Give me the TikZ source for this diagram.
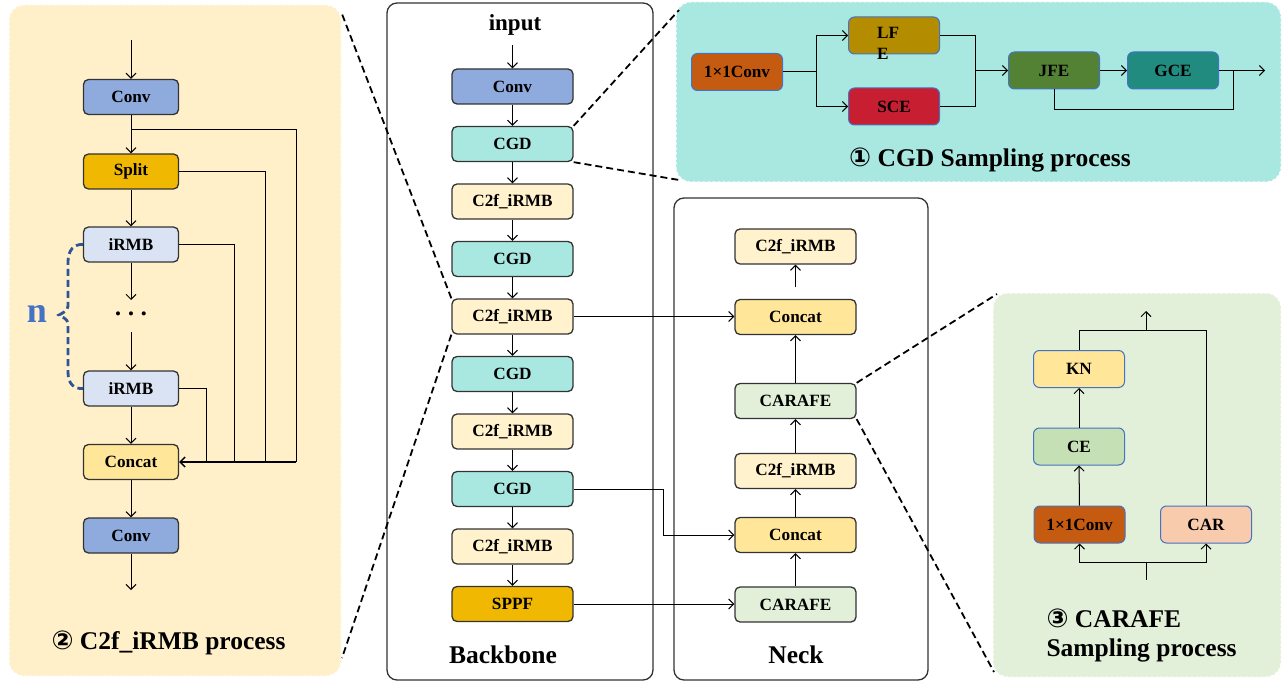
\documentclass[tikz,border=0pt]{standalone}
\usepackage{fontspec}
\setmainfont{Liberation Serif}
\newfontfamily\circfont{DejaVu Sans}
\usetikzlibrary{arrows.meta}
\definecolor{convc}{HTML}{8FAADC}
\definecolor{cgdc}{HTML}{A9E8E1}
\definecolor{c2fc}{HTML}{FFF2CC}
\definecolor{sppfc}{HTML}{F0B800}
\definecolor{irmbc}{HTML}{DAE3F3}
\definecolor{concatc}{HTML}{FFE699}
\definecolor{carafec}{HTML}{E2F0D9}
\definecolor{yellowbg}{HTML}{FFF0C9}
\definecolor{oneconvc}{HTML}{C55A11}
\definecolor{lfec}{HTML}{B48C00}
\definecolor{scec}{HTML}{C81E32}
\definecolor{jfec}{HTML}{548235}
\definecolor{gcec}{HTML}{228B80}
\definecolor{cec}{HTML}{C5E0B4}
\definecolor{carc}{HTML}{F8CBAD}
\definecolor{bordblue}{HTML}{4472C4}
\definecolor{bracec}{HTML}{2F5597}
\definecolor{framec}{HTML}{333333}
\tikzset{
  nodefont/.style={font=\fontsize{17.2}{19}\selectfont\bfseries},
  bbox/.style={draw=framec, line width=1.3pt, rounded corners=5pt, minimum width=121pt, minimum height=35pt, inner sep=0pt, nodefont},
  lbox/.style={bbox, minimum width=95pt},
  pbox/.style={draw=bordblue, line width=1pt, rounded corners=6pt, minimum width=91pt, minimum height=37pt, inner sep=0pt, nodefont},
  arr/.style={-{Straight Barb[length=5pt,width=10pt]}, line width=1pt},
  ln/.style={line width=1pt},
  zoomline/.style={dash pattern=on 7pt off 4pt, line width=1.8pt},
  panel/.style={draw=white, dash pattern=on 3pt off 2pt, line width=1pt, rounded corners=15pt},
  frame/.style={draw=framec, line width=1.3pt, rounded corners=10pt, fill=white},
  title/.style={font=\fontsize{25.5}{29}\selectfont\bfseries},
}
\begin{document}
\begin{tikzpicture}[x=1pt,y=-1pt]
\fill[white] (0,0) rectangle (1283,682);
\useasboundingbox (0,0) rectangle (1283,682);

% ---------- panels ----------
\draw[panel, fill=yellowbg] (9,5) rectangle (341,676);
\draw[panel, fill=cgdc] (676,2) rectangle (1281,182);
\draw[panel, fill=carafec] (993,293) rectangle (1281,677);
\draw[frame] (387,3) rectangle (653,680);
\draw[frame] (674,198) rectangle (928,680);

% ---------- left panel (C2f_iRMB) ----------
\node[lbox, fill=convc] (lconv) at (131,97) {Conv};
\node[lbox, fill=sppfc] (lsplit) at (131,171.5) {Split};
\node[lbox, fill=irmbc] (lirmb1) at (131,244.5) {iRMB};
\node[font=\fontsize{17}{18}\selectfont] (ldots) at (131,316) {\textbullet\hspace{7pt}\textbullet\hspace{7pt}\textbullet};
\node[lbox, fill=irmbc] (lirmb2) at (131,388.5) {iRMB};
\node[lbox, fill=concatc] (lconcat) at (131,462) {Concat};
\node[lbox, fill=convc] (lconv2) at (131,535.5) {Conv};
\coordinate (lin) at (131,40);
\coordinate (lout) at (131,590);
\coordinate (lda) at (131,300);
\coordinate (ldb) at (131,332);
\draw[arr] (lin) -- (lconv);
\draw[arr] (lconv) -- (lsplit);
\draw[arr] (lsplit) -- (lirmb1);
\draw[arr] (lirmb1) -- (lda);
\draw[arr] (ldb) -- (lirmb2);
\draw[arr] (lirmb2) -- (lconcat);
\draw[arr] (lconcat) -- (lconv2);
\draw[arr] (lconv2) -- (lout);
\coordinate (lb0) at (131,130);
\coordinate (lj1) at (296,462);
\coordinate (lj2) at (265,462);
\coordinate (lj3) at (234,462);
\coordinate (lj4) at (206,462);
\draw[ln] (lb0) -| (lj1);
\draw[ln] (lsplit.east) -| (lj2);
\draw[ln] (lirmb1.east) -| (lj3);
\draw[ln] (lirmb2.east) -| (lj4);
\draw[arr, line width=1.4pt] (lj1) -- (lconcat.east);
\draw[bracec, line width=2.8pt, dash pattern=on 7pt off 4pt]
  (lirmb1.west) .. controls (74,244) and (68,250) .. (68,262) -- (68,302)
  .. controls (68,310) .. (59,315) .. controls (68,320) .. (68,328) -- (68,372)
  .. controls (68,384) and (74,389) .. (lirmb2.west);
\node[text=bordblue, font=\fontsize{36}{38}\selectfont\bfseries] (nlab) at (37,314) {n};
\node[title, anchor=west] (ltitle) at (48,643) {{\circfont\fontsize{26}{29}\selectfont ②} C2f\_iRMB process};

% ---------- backbone ----------
\node[font=\fontsize{23}{25}\selectfont\bfseries] (input) at (515,25) {input};
\node[bbox, fill=convc] (b1) at (512.5,86.5) {Conv};
\node[bbox, fill=cgdc] (b2) at (512.5,144) {CGD};
\node[bbox, fill=c2fc] (b3) at (512.5,201.5) {C2f\_iRMB};
\node[bbox, fill=cgdc] (b4) at (512.5,259) {CGD};
\node[bbox, fill=c2fc] (b5) at (512.5,316.5) {C2f\_iRMB};
\node[bbox, fill=cgdc] (b6) at (512.5,374) {CGD};
\node[bbox, fill=c2fc] (b7) at (512.5,431.5) {C2f\_iRMB};
\node[bbox, fill=cgdc] (b8) at (512.5,489) {CGD};
\node[bbox, fill=c2fc] (b9) at (512.5,546.5) {C2f\_iRMB};
\node[bbox, fill=sppfc] (b10) at (512.5,604) {SPPF};
\node[title] (bbt) at (503,655) {Backbone};
\coordinate (bin) at (512.5,45);
\draw[arr] (bin) -- (b1);
\foreach \a/\b in {b1/b2,b2/b3,b3/b4,b4/b5,b5/b6,b6/b7,b7/b8,b8/b9,b9/b10}
  \draw[arr] (\a) -- (\b);

% ---------- neck ----------
\node[bbox, fill=c2fc] (n1) at (795.5,246.5) {C2f\_iRMB};
\node[bbox, fill=concatc] (n2) at (795.5,317) {Concat};
\node[bbox, fill=carafec] (n3) at (795.5,401) {CARAFE};
\node[bbox, fill=c2fc] (n4) at (795.5,471) {C2f\_iRMB};
\node[bbox, fill=concatc] (n5) at (795.5,535) {Concat};
\node[bbox, fill=carafec] (n6) at (795.5,604.5) {CARAFE};
\node[title] (nkt) at (796,655) {Neck};
\coordinate (na) at (795.5,287);
\draw[arr] (na) -- (n1);
\draw[arr] (n3) -- (n2);
\draw[arr] (n4) -- (n3);
\draw[arr] (n5) -- (n4);
\draw[arr] (n6) -- (n5);
\draw[arr] (b5.east) -- (b5.east -| n2.west);
\coordinate (bn1) at (663,489);
\coordinate (bn2) at (663,535);
\draw[arr] (b8.east) -- (bn1) -- (bn2) -- (n5.west);
\draw[arr] (b10.east) -- (b10.east -| n6.west);

% ---------- CGD panel ----------
\node[pbox, fill=oneconvc] (cconv) at (737,72) {1×1Conv};
\node[pbox, fill=lfec] (clfe) at (894,35.5) {};
\node[anchor=north west, align=left, inner sep=0pt, font=\fontsize{17.2}{21}\selectfont\bfseries] (clfet) at (877,27) {LF\\E};
\node[pbox, fill=scec] (csce) at (894,106.5) {SCE};
\node[pbox, fill=jfec] (cjfe) at (1054,70.5) {JFE};
\node[pbox, fill=gcec] (cgce) at (1173,70.5) {GCE};
\coordinate (cs) at (816,72);
\coordinate (cm) at (975,70.5);
\coordinate (cj) at (1233,70.5);
\coordinate (cbot) at (1233,110);
\coordinate (cout) at (1265,70.5);
\draw[ln] (cconv.east) -- (cs);
\draw[arr] (cs) |- (clfe.west);
\draw[arr] (cs) |- (csce.west);
\draw[ln] (clfe.east) -| (cm);
\draw[ln] (csce.east) -| (cm);
\draw[arr] (cm) -- (cjfe.west);
\draw[arr] (cjfe) -- (cgce);
\draw[arr] (cgce.east) -- (cout);
\draw[ln] (cjfe.south) |- (cbot) -- (cj);
\node[title] (ctitle) at (990,160) {{\circfont\fontsize{26}{29}\selectfont ①} CGD Sampling process};

% ---------- CARAFE panel ----------
\node[pbox, fill=concatc] (kn) at (1079,369) {KN};
\node[pbox, fill=cec] (kce) at (1079,446.5) {CE};
\node[pbox, fill=oneconvc] (kc1) at (1079.5,524.5) {1×1Conv};
\node[pbox, fill=carc] (kcar) at (1206,524.5) {CAR};
\coordinate (kin) at (1146,580);
\coordinate (ksplit) at (1146,562);
\coordinate (ktop) at (1146,330);
\coordinate (kout) at (1146,311);
\draw[ln] (kin) -- (ksplit);
\draw[arr] (ksplit) -| (kc1.south);
\draw[arr] (ksplit) -| (kcar.south);
\draw[arr] (kc1) -- (kce);
\draw[arr] (kce) -- (kn);
\draw[ln] (kn.north) |- (ktop);
\draw[ln] (kcar.north) |- (ktop);
\draw[arr] (ktop) -- (kout);
\node[anchor=west, align=left, font=\fontsize{25.5}{29}\selectfont\bfseries] (ktitle) at (1043,636) {{\circfont\fontsize{26}{29}\selectfont ③} CARAFE\\Sampling process};

% ---------- zoom lines ----------
\coordinate (zl1) at (342,14);
\coordinate (zl2) at (342,658);
\coordinate (zc1) at (679,10);
\coordinate (zc2) at (679,180);
\coordinate (zk1) at (997,294);
\coordinate (zk2) at (994,672);
\draw[zoomline] (b5.north west) -- (zl1);
\draw[zoomline] (b5.south west) -- (zl2);
\draw[zoomline] (b2.north east) -- (zc1);
\draw[zoomline] (b2.south east) -- (zc2);
\draw[zoomline] (n3.north east) -- (zk1);
\draw[zoomline] (n3.south east) -- (zk2);
\end{tikzpicture}
\end{document}
